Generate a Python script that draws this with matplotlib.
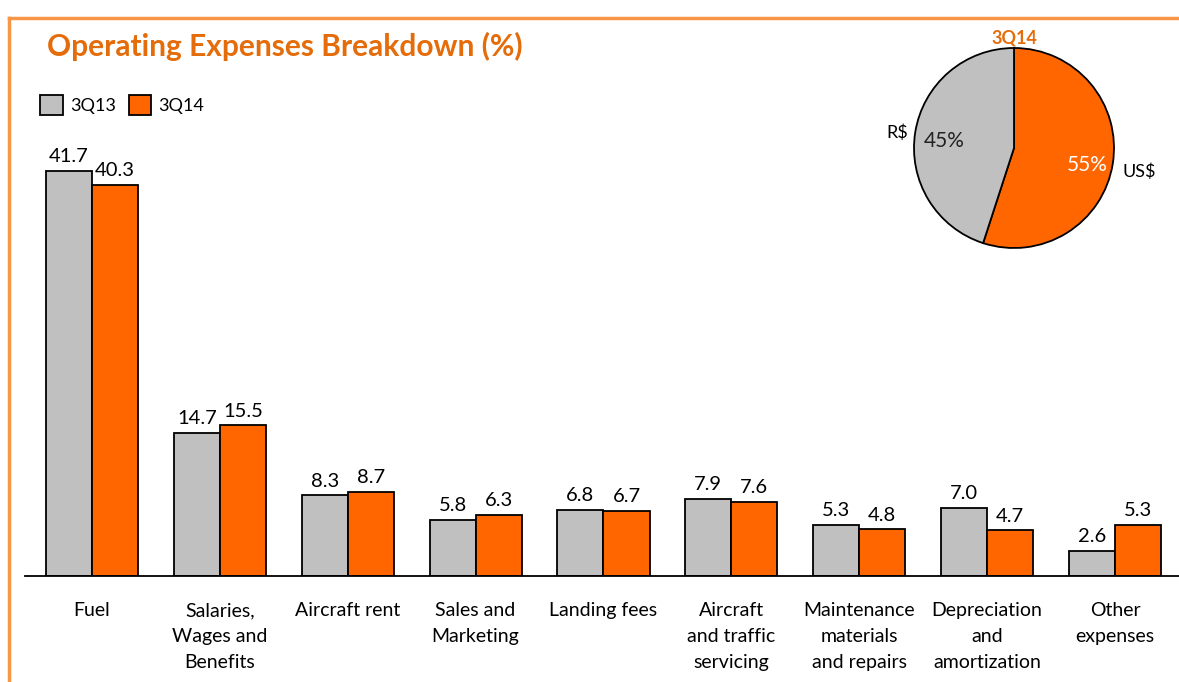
import matplotlib.pyplot as plt
import numpy as np
from matplotlib.patches import Patch
from matplotlib.lines import Line2D

# Data
categories = ['Fuel', 'Salaries,\nWages and\nBenefits', 'Aircraft rent', 'Sales and\nMarketing',
              'Landing fees', 'Aircraft\nand traffic\nservicing', 'Maintenance\nmaterials\nand repairs',
              'Depreciation\nand\namortization', 'Other\nexpenses']
q313 = [41.7, 14.7, 8.3, 5.8, 6.8, 7.9, 5.3, 7.0, 2.6]
q314 = [40.3, 15.5, 8.7, 6.3, 6.7, 7.6, 4.8, 4.7, 5.3]
series_labels = ['3Q13', '3Q14']

pie_labels = ['US$', 'R$']
pie_values = [55, 45]

GRAY = '#C0C0C0'
ORANGE = '#FF6600'
TITLE_ORANGE = '#E46C0A'
FRAME = '#F79646'

plt.rcParams['font.family'] = ['Lato', 'DejaVu Sans']

W, H = 1179, 682
fig = plt.figure(figsize=(W / 100, H / 100), dpi=100)

# orange frame (top and left edges)
fig.add_artist(Line2D([9 / W, 9 / W], [0, 1 - 18 / H], color=FRAME, lw=2.5, transform=fig.transFigure))
fig.add_artist(Line2D([9 / W, 1], [1 - 18 / H, 1 - 18 / H], color=FRAME, lw=2.5, transform=fig.transFigure))

fig.text(47 / W, 1 - 46 / H, 'Operating Expenses Breakdown (%)', color=TITLE_ORANGE,
         fontsize=21.5, fontweight='bold', va='center', ha='left')

# bar chart
ax = fig.add_axes([28 / W, (H - 576) / H, 1151 / W, 437 / H])
x = np.arange(len(categories))
w = 0.36
b1 = ax.bar(x - w / 2, q313, w, color=GRAY, edgecolor='black', linewidth=1.3)
b2 = ax.bar(x + w / 2, q314, w, color=ORANGE, edgecolor='black', linewidth=1.3)
for bars, vals in ((b1, q313), (b2, q314)):
    for r, v in zip(bars, vals):
        ax.text(r.get_x() + r.get_width() / 2, v + 0.6, f'{v:.1f}', ha='center', va='bottom', fontsize=14.5)

ax.set_xlim(-0.5, len(categories) - 0.5)
ax.set_ylim(0, 45)
ax.set_xticks(x)
ax.set_xticklabels(categories, fontsize=14, linespacing=1.64, va='top')
ax.tick_params(axis='x', length=0, pad=19)
ax.set_yticks([])
for s in ['top', 'right', 'left']:
    ax.spines[s].set_visible(False)
ax.spines['bottom'].set_linewidth(1.3)
ax.spines['bottom'].set_bounds(-0.52, len(categories) - 0.5)

handles = [Patch(facecolor=GRAY, edgecolor='black', linewidth=1.3),
           Patch(facecolor=ORANGE, edgecolor='black', linewidth=1.3)]
fig.legend(handles, series_labels, loc='center left', bbox_to_anchor=(33 / W, 1 - 105 / H),
           ncol=2, frameon=False, fontsize=13, handlelength=1.25, handleheight=1.25,
           handletextpad=0.4, columnspacing=0.7, borderaxespad=0)

# pie chart
pax = fig.add_axes([914 / W, (H - 248) / H, 200 / W, 200 / H])
pax.pie(pie_values, colors=[ORANGE, GRAY], startangle=90, counterclock=False,
        wedgeprops=dict(edgecolor='black', linewidth=1.3))
pax.set_xlim(-1, 1)
pax.set_ylim(-1, 1)
pax.set_aspect('equal')
pax.text(0, 1.10, '3Q14', color=TITLE_ORANGE, fontsize=13, fontweight='bold', ha='center', va='center')
pax.text(0.73, -0.17, f'{pie_values[0]}%', color='white', fontsize=15, ha='center', va='center')
pax.text(-0.70, 0.07, f'{pie_values[1]}%', color='#222222', fontsize=15, ha='center', va='center')
pax.text(1.08, -0.24, pie_labels[0], fontsize=13, ha='left', va='center')
pax.text(-1.06, 0.15, pie_labels[1], fontsize=13, ha='right', va='center')

fig.savefig('out.png', dpi=100)
